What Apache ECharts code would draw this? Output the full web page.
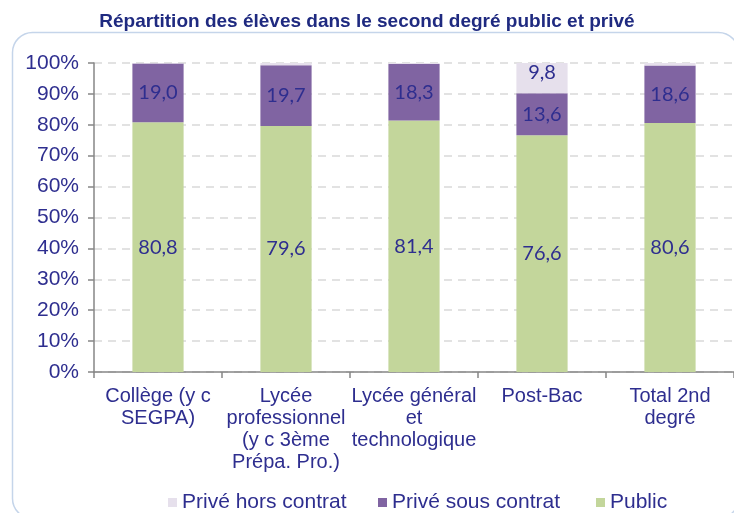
<!DOCTYPE html>
<html><head><meta charset="utf-8">
<script src="https://cdn.jsdelivr.net/npm/echarts@6/dist/echarts.min.js"></script>
<style>html,body{margin:0;padding:0;background:#fff}#c{width:734px;height:513px}</style>
</head><body><div id="c"></div>
<script>
const categories = ["Collège (y c\nSEGPA)", "Lycée\nprofessionnel\n(y c 3ème\nPrépa. Pro.)", "Lycée général\net\ntechnologique", "Post-Bac", "Total 2nd\ndegré"];
const publicVals = [80.8, 79.6, 81.4, 76.6, 80.6];
const priveSousContrat = [19.0, 19.7, 18.3, 13.6, 18.6];
const priveHorsContrat = [0.2, 0.7, 0.3, 9.8, 0.8];
const yTicks = [0, 10, 20, 30, 40, 50, 60, 70, 80, 90, 100];

const navy = '#2E2E8F';
const fmt = v => v.toFixed(1).replace('.', ',');
const lbl = (pos, extra) => Object.assign({
  show: true, position: pos, color: navy, fontFamily: 'Lato', fontSize: 20,
  formatter: p => p.value >= 5 ? fmt(p.value) : ''
}, extra || {});
const legendText = {color: navy, fontFamily: 'Liberation Sans', fontSize: 21};
const mkLegend = (name, left) => ({
  left: left, top: 487, itemWidth: 9, itemHeight: 9, icon: 'rect',
  textStyle: legendText, data: [name]
});

const chart = echarts.init(document.getElementById('c'), null, {renderer: 'canvas'});
chart.setOption({
  animation: false,
  graphic: [{
    type: 'rect', left: 10, top: 30, z: -10,
    shape: {width: 726, height: 486, r: 20},
    style: {fill: 'none', stroke: '#C5D5EA', lineWidth: 1.5}
  }],
  title: {
    text: 'Répartition des élèves dans le second degré public et privé',
    left: 'center', top: 7,
    textStyle: {color: '#1F2A80', fontFamily: 'Liberation Sans', fontWeight: 'bold', fontSize: 19}
  },
  legend: [
    mkLegend('Privé hors contrat', 163),
    mkLegend('Privé sous contrat', 373),
    mkLegend('Public', 591)
  ],
  grid: {left: 94, top: 63, width: 650, bottom: 141, containLabel: false},
  xAxis: {
    type: 'category', data: categories,
    axisLine: {lineStyle: {color: '#868686', width: 1.5}},
    axisTick: {show: true, length: 6, lineStyle: {color: '#868686', width: 1.5}},
    axisLabel: {color: navy, fontFamily: 'Liberation Sans', fontSize: 20, lineHeight: 22, interval: 0, margin: 13}
  },
  yAxis: {
    type: 'value', min: 0, max: 100, interval: 10,
    axisLine: {show: true, lineStyle: {color: '#868686', width: 1.5}},
    axisTick: {show: true, length: 6, lineStyle: {color: '#868686', width: 1.5}},
    splitLine: {lineStyle: {color: '#D9D9D9', type: [8, 6], width: 1.5}},
    axisLabel: {color: navy, fontFamily: 'Liberation Sans', fontSize: 21, margin: 15,
      formatter: v => yTicks.includes(v) ? v + '%' : ''}
  },
  series: [
    {name: 'Public', type: 'bar', stack: 's', data: publicVals, barWidth: '40%',
      itemStyle: {color: '#C3D69B'}, label: lbl('inside')},
    {name: 'Privé sous contrat', type: 'bar', stack: 's', data: priveSousContrat,
      itemStyle: {color: '#8064A2'}, label: lbl('inside')},
    {name: 'Privé hors contrat', type: 'bar', stack: 's', data: priveHorsContrat,
      itemStyle: {color: '#E6E0EC'}, label: lbl('insideTop', {distance: 0})}
  ]
});
</script></body></html>
